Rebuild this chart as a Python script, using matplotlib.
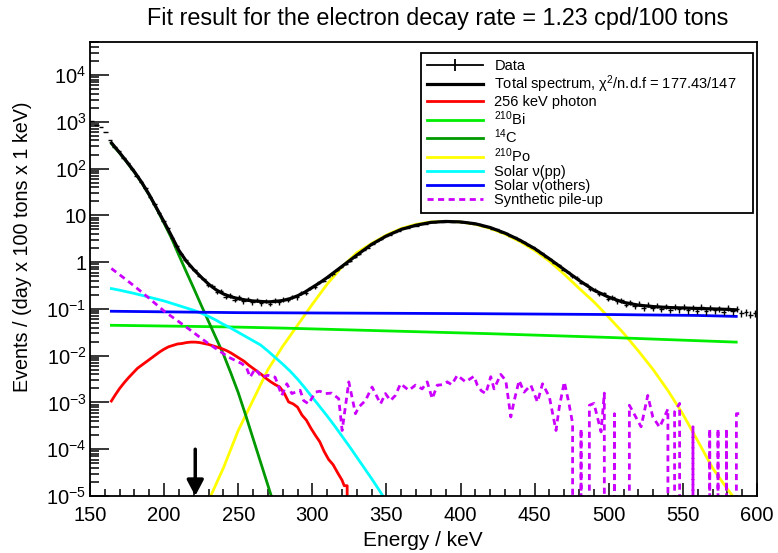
import numpy as np
import matplotlib
matplotlib.use('Agg')
import matplotlib.pyplot as plt
from matplotlib.lines import Line2D
from matplotlib.ticker import FixedLocator, FixedFormatter, MultipleLocator, LogLocator, NullFormatter

plt.rcParams['font.family'] = ['Liberation Sans', 'DejaVu Sans']
plt.rcParams['mathtext.default'] = 'regular'

Z = -np.inf  # empty bin (log10 of 0)

# measured spectrum, 3 keV bins from 150 keV, log10(events / day / 100 t / keV)
data_log10 = [
    3.02, 2.94, 2.89, 2.78, 2.61, 2.47, 2.37, 2.23, 2.12, 2.00,
    1.85, 1.72, 1.58, 1.40, 1.25, 1.06, 0.88, 0.72, 0.52, 0.35,
    0.18, 0.05, -0.09, -0.17, -0.29, -0.36, -0.49, -0.51, -0.63, -0.62,
    -0.74, -0.71, -0.80, -0.75, -0.84, -0.79, -0.86, -0.81, -0.88, -0.83,
    -0.89, -0.82, -0.86, -0.80, -0.81, -0.74, -0.75, -0.66, -0.65, -0.56,
    -0.53, -0.43, -0.40, -0.31, -0.26, -0.17, -0.11, -0.03, 0.03, 0.11,
    0.17, 0.27, 0.31, 0.38, 0.46, 0.49, 0.56, 0.59, 0.65, 0.67,
    0.72, 0.73, 0.78, 0.78, 0.82, 0.82, 0.86, 0.85, 0.87, 0.86,
    0.88, 0.86, 0.87, 0.85, 0.85, 0.83, 0.82, 0.81, 0.77, 0.76,
    0.71, 0.70, 0.64, 0.62, 0.56, 0.53, 0.47, 0.43, 0.36, 0.32,
    0.25, 0.20, 0.12, 0.07, -0.02, -0.07, -0.17, -0.21, -0.30, -0.33,
    -0.44, -0.47, -0.57, -0.59, -0.68, -0.67, -0.78, -0.75, -0.84, -0.82,
    -0.91, -0.86, -0.94, -0.89, -0.97, -0.91, -0.98, -0.93, -1.00, -0.94,
    -1.02, -0.95, -1.01, -0.96, -1.03, -0.97, -1.04, -0.96, -1.05, -0.98,
    -1.03, -0.99, -1.06, -0.98, -1.05, -1.00, -1.09, -1.07, -1.12, -1.09,
]
bin_width = 3.0

total_E = [164.5, 170, 175, 180, 185, 190, 195, 200, 205, 210,
           215, 220, 225, 230, 235, 240, 245, 250, 255, 260,
           265, 270, 275, 280, 285, 290, 295, 300, 305, 310,
           315, 320, 330, 340, 350, 360, 370, 380, 390, 400,
           410, 420, 430, 440, 450, 460, 470, 480, 490, 500,
           510, 520, 530, 540, 550, 560, 570, 580, 586]
total_log10 = [2.55, 2.34, 2.14, 1.93, 1.70, 1.44, 1.15, 0.86, 0.56, 0.25,
               0.02, -0.16, -0.32, -0.47, -0.59, -0.68, -0.74, -0.78, -0.81, -0.83,
               -0.84, -0.85, -0.84, -0.82, -0.78, -0.72, -0.64, -0.54, -0.44, -0.33,
               -0.21, -0.09, 0.15, 0.38, 0.56, 0.70, 0.79, 0.85, 0.87, 0.86,
               0.82, 0.74, 0.62, 0.47, 0.29, 0.07, -0.16, -0.39, -0.60, -0.75,
               -0.86, -0.92, -0.95, -0.97, -0.98, -0.99, -1.00, -1.01, -1.02]

red_E = [164.4, 167, 170, 173, 176, 179, 182, 185, 188, 191,
         194, 197, 200, 203, 206, 209, 212, 215, 218, 221,
         224, 227, 230, 233, 236, 239, 242, 245, 248, 251,
         254, 257, 260, 263, 266, 269, 272, 275, 278, 281,
         284, 287, 290, 293, 296, 299, 302, 305, 308, 311,
         314, 317, 320, 321.5, 323.5, 323.6]
red_log10 = [-2.97, -2.84, -2.70, -2.58, -2.47, -2.37, -2.27, -2.20, -2.13, -2.06,
             -1.99, -1.92, -1.86, -1.81, -1.78, -1.75, -1.74, -1.72, -1.71, -1.71,
             -1.72, -1.74, -1.76, -1.79, -1.82, -1.85, -1.89, -1.94, -2.00, -2.06,
             -2.12, -2.20, -2.27, -2.34, -2.41, -2.49, -2.56, -2.62, -2.67, -2.80,
             -2.99, -3.03, -3.10, -3.27, -3.38, -3.55, -3.70, -3.84, -4.05, -4.22,
             -4.33, -4.50, -4.66, -4.78, -4.78, Z]

bi_E = [164.4, 243, 280, 350, 420, 500, 586]
bi_log10 = [-1.35, -1.385, -1.41, -1.47, -1.53, -1.61, -1.71]

c14_E = [164.5, 170, 175, 180, 185, 190, 195, 200, 205, 210,
         215, 220, 225, 230, 235, 240, 245, 250, 255, 260,
         265, 270, 273]
c14_log10 = [2.53, 2.33, 2.13, 1.92, 1.69, 1.43, 1.14, 0.83, 0.51, 0.145,
             -0.21, -0.56, -0.92, -1.27, -1.62, -1.97, -2.37, -2.79, -3.27, -3.77,
             -4.27, -4.77, -5.07]

po_E = [230, 240, 250, 260, 270, 280, 290, 300, 310, 320,
        330, 340, 350, 360, 370, 380, 390, 400, 410, 420,
        430, 440, 450, 460, 470, 480, 490, 500, 510, 520,
        530, 540, 550, 560, 570, 580, 586]
po_log10 = [-5.1, -4.4, -3.6, -2.95, -2.30, -1.80, -1.35, -0.9, -0.47, -0.1,
            0.2, 0.40, 0.58, 0.72, 0.81, 0.86, 0.87, 0.86, 0.81, 0.72,
            0.60, 0.44, 0.25, 0.02, -0.26, -0.56, -0.85, -1.18, -1.52, -1.90,
            -2.30, -2.75, -3.25, -3.82, -4.4, -4.85, -5.1]

pp_E = [164.4, 170, 175, 180, 185, 190, 195, 200, 205, 210,
        215, 220, 225, 230, 235, 240, 245, 250, 255, 260,
        265, 270, 275, 280, 285, 290, 295, 300, 305, 310,
        315, 320, 325, 330, 335, 340, 345, 350]
pp_log10 = [-0.565, -0.60, -0.635, -0.67, -0.71, -0.75, -0.79, -0.83, -0.88, -0.93,
            -0.98, -1.03, -1.09, -1.16, -1.24, -1.33, -1.41, -1.50, -1.59, -1.68,
            -1.77, -1.90, -2.04, -2.18, -2.33, -2.50, -2.69, -2.89, -3.09, -3.29,
            -3.50, -3.72, -3.94, -4.17, -4.40, -4.63, -4.87, -5.12]

others_E = [164.4, 250, 400, 500, 560, 586]
others_log10 = [-1.05, -1.08, -1.10, -1.12, -1.14, -1.16]

pileup_E = [164.4, 175, 184.7, 192, 200.5, 208, 216.3, 223, 229.8, 236,
            243.4, 252.4, 255.5, 258, 261.4, 265.9, 270, 274.9, 279.4, 282.8,
            286.2, 291.8, 294.1, 297.5, 302, 305, 308.8, 313, 317.8, 320.1,
            324.6, 329.1, 331.3, 335.8, 340.3, 346, 349.3, 352.7, 356, 359.5,
            365.1, 369.6, 374.1, 377.5, 380.9, 384.3, 388, 391, 394, 397.8,
            403.4, 409.1, 411.3, 414, 417, 420.4, 422.6, 427.1, 430.5, 433.9,
            436.2, 439.5, 442.9, 447.4, 451.9, 455.3, 459.9, 464.4, 466.6, 470,
            473, 475.6, 477.5, 481.3, 484, 486.9, 490, 494.8, 497, 499.7,
            503.8, 506, 510, 513.9, 517, 521.8, 526.3, 529.7, 534.3, 539.9,
            541.5, 544.4, 547.8, 551, 556.8, 560, 565, 568.1, 571, 573.7,
            576.5, 579.4, 583, 586.1, 588]
pileup_log10 = [-0.135, -0.39, -0.635, -0.83, -1.06, -1.23, -1.42, -1.58, -1.74, -1.87,
                -2.03, -2.17, -2.25, -2.46, -2.28, -2.46, -2.42, -2.46, -2.85, -2.60,
                -2.81, -2.74, -2.96, -3.03, -2.78, -2.76, -2.81, -2.80, -2.92, -3.60,
                -2.56, -3.24, -3.10, -2.96, -2.67, -3.03, -2.81, -2.96, -2.85, -2.60,
                -2.74, -2.63, -2.71, -2.56, -2.92, -2.63, -2.62, -2.56, -2.62, -2.42,
                -2.56, -2.44, -2.63, -2.75, -2.81, -2.45, -2.71, -2.40, -2.53, -3.31,
                -2.96, -2.53, -2.78, -2.63, -2.99, -2.60, -2.88, -3.60, -3.10, -2.56,
                -3.00, -3.45, Z, -3.56, Z, -3.06, -3.02, -3.63, -2.80, Z,
                -3.24, Z, Z, -3.06, -3.24, -3.52, -2.85, -3.31, -3.53, -3.14,
                Z, -3.20, -3.02, Z, -3.52, Z, Z, -3.56, Z, -3.56,
                Z, -3.56, Z, -3.24, -3.24]

arrow_E = 221

def lin(v):
    return 10.0 ** np.asarray(v, dtype=float)

data = lin(data_log10)
data_E = 150 + bin_width / 2 + bin_width * np.arange(len(data))
data_err = 0.045 * np.sqrt(data)  # poisson-like

fig = plt.figure(figsize=(7.78, 5.53), dpi=100)
ax = fig.add_axes([0.1157, 0.1031, 0.8573, 0.8210])
ax.set_yscale('log')

lw = 2.0
l_po, = ax.plot(po_E, lin(po_log10), color='#ffff00', lw=lw)
l_bi, = ax.plot(bi_E, lin(bi_log10), color='#00ee00', lw=lw)
l_c14, = ax.plot(c14_E, lin(c14_log10), color='#009900', lw=lw)
l_pp, = ax.plot(pp_E, lin(pp_log10), color='#00ffff', lw=lw)
l_oth, = ax.plot(others_E, lin(others_log10), color='#0000ff', lw=lw)
l_red, = ax.plot(red_E, lin(red_log10), color='#ff0000', lw=lw)
l_pu, = ax.plot(pileup_E, lin(pileup_log10), color='#cc00ff', lw=lw, ls=(0, (2.2, 1.6)))
l_tot, = ax.plot(total_E, lin(total_log10), color='k', lw=2.3)
ax.errorbar(data_E, data, xerr=bin_width / 2, yerr=data_err, fmt='none',
            ecolor='k', elinewidth=1.0, capsize=0)

ax.annotate('', xy=(arrow_E, 1e-5), xytext=(arrow_E, 1e-4),
            arrowprops=dict(arrowstyle='-|>,head_length=0.95,head_width=0.5',
                            color='k', lw=2.5, shrinkA=0, shrinkB=0),
            annotation_clip=False)

ax.set_xlim(150, 600)
ax.set_ylim(1e-5, 5.1e4)
ax.xaxis.set_major_locator(MultipleLocator(50))
ax.xaxis.set_minor_locator(MultipleLocator(10))
yt = [1e-5, 1e-4, 1e-3, 1e-2, 1e-1, 1, 10, 1e2, 1e3, 1e4]
ylabels = ['$10^{-5}$', '$10^{-4}$', '$10^{-3}$', '$10^{-2}$', '$10^{-1}$',
           '1', '10', '$10^{2}$', '$10^{3}$', '$10^{4}$']
ax.yaxis.set_major_locator(FixedLocator(yt))
ax.yaxis.set_major_formatter(FixedFormatter(ylabels))
ax.yaxis.set_minor_locator(LogLocator(base=10, subs=np.arange(2, 10), numticks=40))
ax.yaxis.set_minor_formatter(NullFormatter())

ax.tick_params(which='both', direction='in', top=False, right=False, width=1.1)
ax.tick_params(axis='x', which='major', length=9.5, labelsize=14.5, pad=7)
ax.tick_params(axis='x', which='minor', length=5)
ax.tick_params(axis='y', which='major', length=13.5, labelsize=14.5, pad=2.5)
ax.tick_params(axis='y', which='minor', length=6.5)
for s in ax.spines.values():
    s.set_linewidth(1.3)

fig.text(0.562, 0.967, 'Fit result for the electron decay rate = 1.23 cpd/100 tons',
         ha='center', va='center', fontsize=16.8)
fig.text(0.5437, 0.0217, 'Energy / keV', ha='center', va='center', fontsize=15)
fig.text(0.0283, 0.5533, 'Events / (day x 100 tons x 1 keV)', rotation=90,
         ha='center', va='center', fontsize=14.2)

h_data = Line2D([], [], color='k', lw=1.3, marker='|', markersize=9, markeredgewidth=1.3)
handles = [h_data, l_tot, l_red, l_bi, l_c14, l_po, l_pp, l_oth, l_pu]
labels = ['Data', 'Total spectrum, $\\chi^{2}$/n.d.f = 177.43/147', '256 keV photon',
          '$^{210}$Bi', '$^{14}$C', '$^{210}$Po', 'Solar \u03bd(pp)',
          'Solar \u03bd(others)', 'Synthetic pile-up']
leg = ax.legend(handles, labels, loc='upper left', bbox_to_anchor=(0.496, 0.976, 0.498, 0.0),
                mode='expand', fontsize=10.5, fancybox=False, edgecolor='k', framealpha=1,
                borderpad=0.45, labelspacing=0.0, handlelength=3.8, handletextpad=0.8,
                borderaxespad=0)
leg.get_frame().set_linewidth(1.3)

fig.savefig('out.png', dpi=100)
